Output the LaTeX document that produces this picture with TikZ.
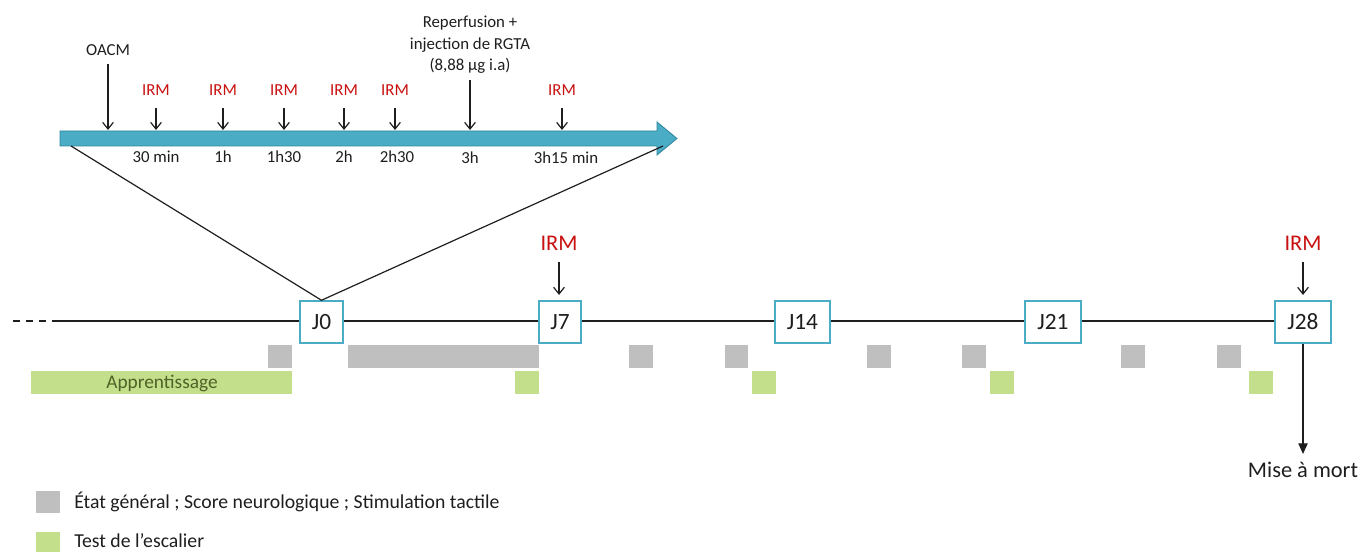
\documentclass[tikz,border=0pt]{standalone}
\usepackage{fontspec}
\setmainfont{Carlito}
\usetikzlibrary{arrows.meta}
\definecolor{teal1}{RGB}{75,172,198}
\definecolor{teal2}{RGB}{49,133,156}
\definecolor{irmred}{RGB}{200,16,16}
\definecolor{grayb}{RGB}{191,191,191}
\definecolor{greenb}{RGB}{195,223,139}
\definecolor{darkgreen}{RGB}{79,98,40}
\definecolor{txt}{RGB}{30,30,30}
\tikzset{
  smalltxt/.style={inner sep=0pt, text=txt, font=\fontsize{12.6}{15}\selectfont},
  smallred/.style={smalltxt, text=irmred},
  bigtxt/.style={inner sep=0pt, text=txt, font=\fontsize{16.8}{20}\selectfont},
  bigred/.style={bigtxt, text=irmred},
  arr/.style={-{Straight Barb[length=5pt,width=8pt]}, line width=0.9pt, draw=txt},
  jbox/.style={draw=teal1, line width=1.6pt, fill=white, minimum height=31pt, minimum width=32pt, inner xsep=4pt, text=txt, font=\fontsize{17.5}{20}\selectfont},
  jboxw/.style={jbox, minimum width=41.5pt},
  legtxt/.style={inner sep=0pt, anchor=west, text=txt, font=\fontsize{14.8}{18}\selectfont},
}
\begin{document}
\begin{tikzpicture}[x=0.75pt,y=-0.75pt]
\useasboundingbox (0,0) rectangle (1359,552);

% top time arrow
\fill[teal1, draw=teal2, line width=0.6pt] (60,131) -- (657,131) -- (657,122) -- (677,138.5) -- (657,155) -- (657,146) -- (60,146) -- cycle;
\coordinate (st) at (0,130);
\coordinate (al) at (71,146);
\coordinate (ar) at (663,146);

% OACM
\node[smalltxt] (oacm) at (108,50) {OACM};
\draw[arr] (oacm.south) ++(0,-6pt) -- (oacm |- st);

% reperfusion
\node[smalltxt, align=center, font=\fontsize{12.6}{16}\selectfont] (rep) at (470,45) {Reperfusion +\\injection de RGTA\\(8,88 µg i.a)};
\draw[arr] (470,80) coordinate (repa) -- (repa |- st);

% small IRM
\foreach \n/\x in {1/156,2/223,3/284,4/344,5/395,6/562}{
  \node[smallred] (irm\n) at (\x,90) {IRM};
  \coordinate (irmt\n) at (\x,108);
  \draw[arr] (irmt\n) -- (irmt\n |- st);
}

% time labels
\node[smalltxt] (t1) at (156,157) {30 min};
\node[smalltxt] (t2) at (223,157) {1h};
\node[smalltxt] (t3) at (284,157) {1h30};
\node[smalltxt] (t4) at (344,157) {2h};
\node[smalltxt] (t5) at (397,157) {2h30};
\node[smalltxt] (t6) at (470,158) {3h};
\node[smalltxt] (t7) at (566,158) {3h15 min};

% main line
\coordinate (ls) at (13,321);
\coordinate (ld) at (53,321);
\coordinate (le) at (1290,321);
\draw[line width=1.5pt, draw=txt, dash pattern=on 5.2pt off 4.6pt] (ls) -- (ld);
\draw[line width=1.5pt, draw=txt] (ld) -- (le);

% J boxes
\node[jbox] (j0) at (321.5,322) {J0};
\node[jbox] (j7) at (560,322) {J7};
\node[jboxw] (j14) at (802.5,322) {J14};
\node[jboxw] (j21) at (1053,322) {J21};
\node[jboxw] (j28) at (1303,322) {J28};

% zoom lines
\draw[line width=0.9pt, draw=txt] (al) -- (j0.north) -- (ar);

% big IRM
\node[bigred] (irmA) at (559,243) {IRM};
\node[bigred] (irmB) at (1303,243) {IRM};
\coordinate (irmAt) at (559,262);
\coordinate (irmBt) at (1303,262);
\draw[arr] (irmAt) -- ([yshift=4pt]irmAt |- j7.north);
\draw[arr] (irmBt) -- ([yshift=4pt]irmBt |- j28.north);

% mise a mort
\node[bigtxt] (mort) at (1303,470) {Mise à mort};
\draw[line width=0.9pt, draw=txt, -{Triangle[length=8pt,width=7pt]}] (j28.south) -- ([yshift=6pt]mort.north);

% gray boxes
\foreach \a/\b in {268/292,348/539,629/653,725/748,867/891,962/986,1121/1145,1217/1241}{
  \fill[grayb] (\a,345) rectangle (\b,368);
}
% green boxes
\fill[greenb] (31,371) rectangle (292,394);
\node[inner sep=0pt, text=darkgreen, font=\fontsize{14.5}{17}\selectfont] (appr) at (162,383) {Apprentissage};
\foreach \a/\b in {515/539,752/776,990/1014,1249/1273}{
  \fill[greenb] (\a,371) rectangle (\b,394);
}

% legend
\fill[grayb] (36,491) rectangle (60,513);
\node[legtxt] (leg1) at (74,502) {État général ; Score neurologique ; Stimulation tactile};
\fill[greenb] (36,532) rectangle (60,552);
\node[legtxt] (leg2) at (74,541) {Test de l’escalier};
\end{tikzpicture}
\end{document}
